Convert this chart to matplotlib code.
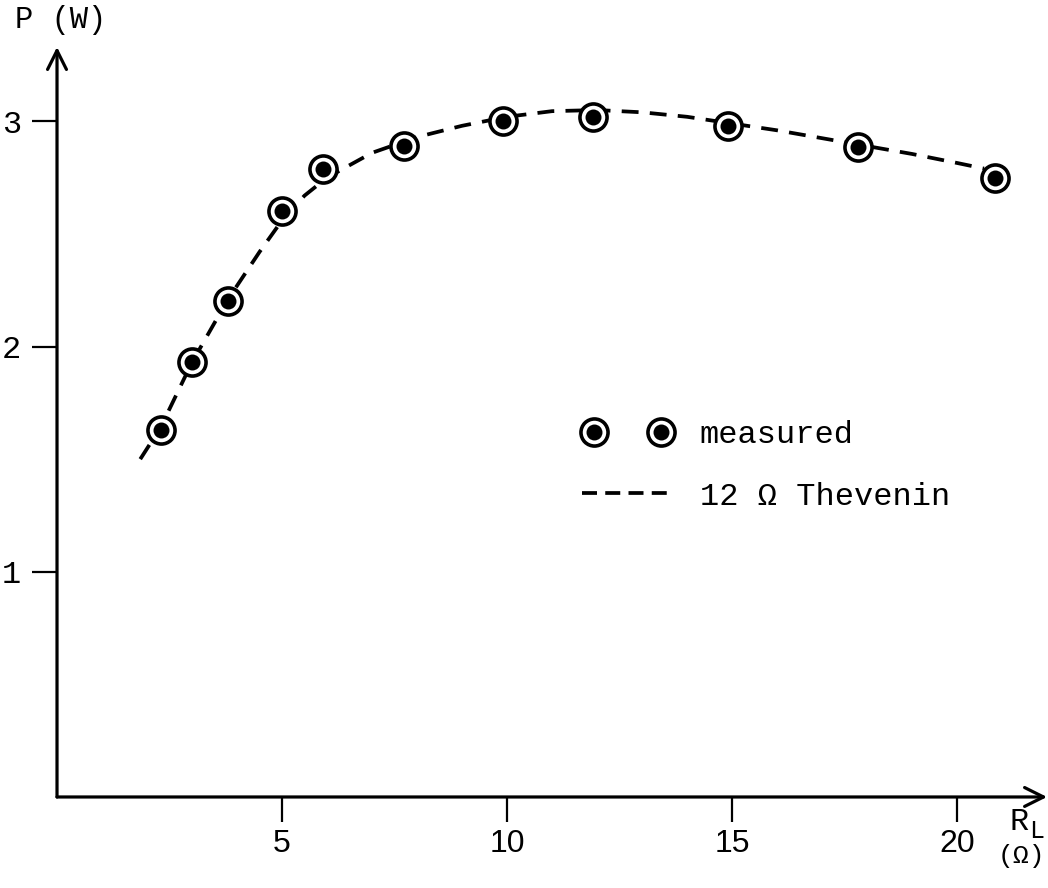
"""Power delivered to a load resistor vs. load resistance."""

import matplotlib

matplotlib.use("Agg")
import matplotlib.pyplot as plt
from matplotlib.lines import Line2D
from matplotlib.legend_handler import HandlerTuple

# measured points: load resistance (ohm) and power (W)
r_measured = [2.3, 3.0, 3.8, 5.0, 5.9, 7.7, 9.9, 11.9, 14.9, 17.8, 20.85]
p_measured = [1.63, 1.93, 2.2, 2.6, 2.79, 2.89, 3.0, 3.02, 2.98, 2.885, 2.75]

# dashed curve
r_curve = [1.85, 2.3, 3.0, 3.8, 4.5, 5.0, 5.5, 6.0, 7.0, 8.0, 9.0, 10.0,
           11.0, 12.0, 13.0, 14.0, 15.0, 16.0, 17.0, 18.0, 19.0, 20.0, 20.6]
p_curve = [1.50, 1.64, 1.93, 2.21, 2.42, 2.56, 2.67, 2.75, 2.86, 2.93, 2.98,
           3.02, 3.045, 3.05, 3.04, 3.02, 2.99, 2.96, 2.925, 2.89, 2.855,
           2.815, 2.79]

x_ticks = [5, 10, 15, 20]
y_ticks = [1, 2, 3]

MONO = ["Liberation Mono", "DejaVu Sans Mono"]
SANS = ["Liberation Sans", "DejaVu Sans"]

plt.rcParams["font.family"] = MONO

fig = plt.figure(figsize=(10.48, 8.88), dpi=100)
ax = fig.add_axes([0.0544, 0.1025, 0.9447, 0.8446])
ax.set_xlim(0, 22)
ax.set_ylim(0, 3.33)

for side in ("top", "right", "left", "bottom"):
    ax.spines[side].set_visible(False)

# axes with open arrow heads
arrow = dict(arrowstyle="->", lw=2.3, color="black", mutation_scale=34,
             shrinkA=0, shrinkB=0)
ax.annotate("", xy=(1, 0), xytext=(0, 0), xycoords="axes fraction",
            arrowprops=arrow, annotation_clip=False)
ax.annotate("", xy=(0, 1), xytext=(0, 0), xycoords="axes fraction",
            arrowprops=arrow, annotation_clip=False)

ax.set_xticks(x_ticks)
ax.set_xticklabels([str(t) for t in x_ticks], fontfamily=SANS, fontsize=23)
ax.set_yticks(y_ticks)
ax.set_yticklabels([str(t) for t in y_ticks], fontsize=23)
ax.tick_params(axis="x", direction="out", length=18, width=1.6, pad=5)
ax.tick_params(axis="y", direction="out", length=18, width=1.6, pad=8)

dash, = ax.plot(r_curve, p_curve, color="black", lw=2.7,
                dashes=(4.5, 3.0), dash_capstyle="butt", zorder=2)

ring_style = dict(ls="none", marker="o", ms=19.5, mfc="white", mec="black",
                  mew=2.6)
dot_style = dict(ls="none", marker="o", ms=11.5, mfc="black", mec="black",
                 mew=0)
ring, = ax.plot(r_measured, p_measured, zorder=3, **ring_style)
dot, = ax.plot(r_measured, p_measured, zorder=4, **dot_style)

# legend: two ring markers + dashed line
h_ring = Line2D([], [], **ring_style)
h_dot = Line2D([], [], **dot_style)
pair = ((h_ring, h_dot), (h_ring, h_dot))
h_dash = Line2D([], [], color="black", lw=2.7, dashes=(4.0, 2.2),
                dash_capstyle="butt")
ax.legend(
    handles=[pair, h_dash],
    labels=["measured", "12 \u03a9 Thevenin"],
    handler_map={pair: HandlerTuple(ndivide=None, pad=1.35)},
    loc="upper left",
    bbox_to_anchor=(0.530, 0.503),
    frameon=False,
    fontsize=23,
    handlelength=2.85,
    handletextpad=0.85,
    labelspacing=1.0,
    borderpad=0,
    borderaxespad=0,
    numpoints=1,
)

# axis titles
fig.text(0.014, 0.978, "P (W)", fontsize=22, ha="left", va="center")
fig.text(0.9635, 0.074, "R", fontsize=23, ha="left", va="center")
fig.text(0.982, 0.064, "L", fontsize=18, ha="left", va="center")
fig.text(0.997, 0.036, "(\u03a9)", fontsize=19, ha="right", va="center")

fig.savefig("out.png", dpi=100)
